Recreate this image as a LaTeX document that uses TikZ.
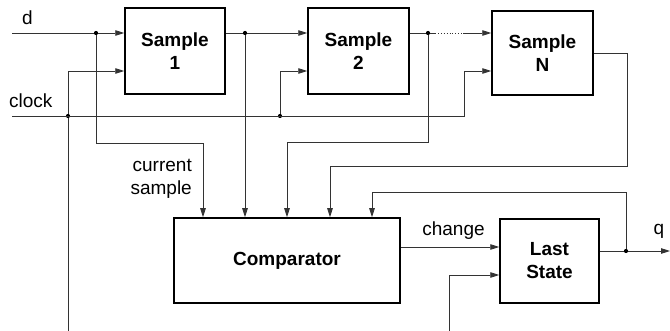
\documentclass[tikz,border=0pt]{standalone}
\usepackage{fontspec}
\setmainfont{Liberation Sans}
\usetikzlibrary{arrows.meta,calc}

\tikzset{
  x=1pt, y=-1pt,
  block/.style={draw=black, line width=1.5pt, inner sep=0pt, align=center,
    font=\fontsize{19}{23}\selectfont\bfseries},
  wire/.style={draw=black!80, line width=0.9pt},
  sig/.style={wire, -{Triangle[length=9pt,width=5.5pt]}},
  joint/.style={circle, fill=black, inner sep=0pt, minimum size=4.2pt},
  lbl/.style={font=\fontsize{19}{23}\selectfont, inner sep=0pt}
}

\begin{document}
\begin{tikzpicture}
\useasboundingbox (0,0) rectangle (670,331);

% register stages
\node[block, minimum width=100pt, minimum height=86pt] (s1) at (175,51) {Sample\\1};
\node[block, minimum width=101pt, minimum height=86pt] (s2) at (358.5,51) {Sample\\2};
\node[block, minimum width=101pt, minimum height=84pt] (sn) at (542.5,53) {Sample\\N};
\node[block, minimum width=226pt, minimum height=85pt] (cmp) at (287,260.5) {Comparator};
\node[block, minimum width=99pt, minimum height=84pt] (ls) at (549.5,261) {Last\\State};

% junction points
\coordinate (din) at (12,33);
\coordinate (clkin) at (12,116);
\node[joint] (jd) at (96,33) {};
\node[joint] (jc1) at (68,116) {};
\node[joint] (jc2) at (280,116) {};
\node[joint] (j1) at (245,33) {};
\node[joint] (j2) at (428,33) {};
\node[joint] (jq) at (626,251) {};
\coordinate (dotA) at (435,33);
\coordinate (dotB) at (463,33);
\coordinate (qout) at (670,251);
\coordinate (clkbot) at (68,331);
\coordinate (lsclk) at (449,331);

% data path
\draw[sig] (din) -- (jd) -- (jd -| s1.west);
\draw[sig] (s1.east |- j1) -- (j1) -- (j1 -| s2.west);
\draw[wire] (s2.east |- j2) -- (j2) -- (dotA);
\draw[wire, dotted] (dotA) -- (dotB);
\draw[sig] (dotB) -- (dotB -| sn.west);

% clock distribution
\draw[sig] (clkin) -- (464,116) -- (464,71) -- (sn.west |- 0,71);
\draw[wire] (jc1) -- (clkbot);
\draw[sig] (jc1) -- (68,71) -- (s1.west |- 0,71);
\draw[sig] (jc2) -- (280,71) -- (s2.west |- 0,71);

% comparator inputs
\draw[sig] (jd) -- (96,143) -- (203,143) -- (cmp.north -| 203,0);
\draw[sig] (j1) -- (cmp.north -| j1);
\draw[sig] (j2) -- (428,142) -- (287,142) -- (cmp.north -| 287,0);
\draw[sig] (sn.east |- 0,53) -- (627,53) -- (627,166) -- (330,166) -- (cmp.north -| 330,0);
\draw[sig] (jq) -- (626,192) -- (372,192) -- (cmp.north -| 372,0);

% state update and output
\draw[sig] (cmp.east |- 0,247) -- (ls.west |- 0,247);
\draw[sig] (lsclk) -- (449,275) -- (ls.west |- 0,275);
\draw[sig] (ls.east |- jq) -- (jq) -- (qout);

% signal names
\node[lbl, anchor=base] at (27.5,25) {d};
\node[lbl, anchor=base west] at (9,108) {clock};
\node[lbl, anchor=base east] at (192,171.5) {current};
\node[lbl, anchor=base east] at (192,195) {sample};
\node[lbl, anchor=base] at (453.5,236) {change};
\node[lbl, anchor=base] at (659,235) {q};
\end{tikzpicture}
\end{document}
